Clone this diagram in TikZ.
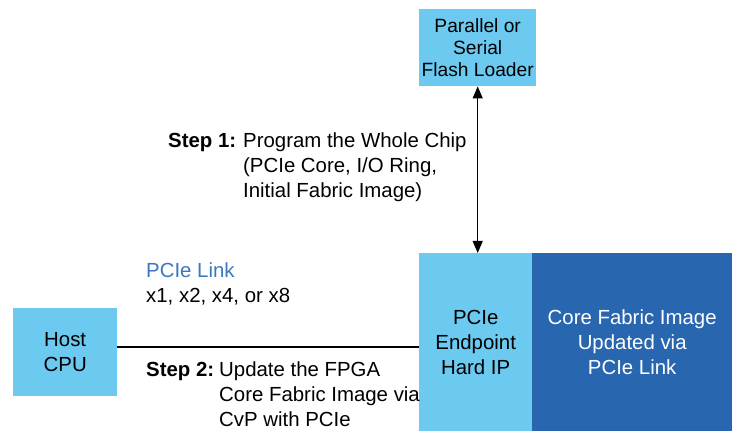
\documentclass[tikz,border=0pt]{standalone}
\usepackage{fontspec}
\setmainfont{Liberation Sans}
\usetikzlibrary{arrows.meta}
\definecolor{lightblk}{HTML}{6CC9F0}
\definecolor{darkblk}{HTML}{2966B0}
\definecolor{linkblue}{HTML}{3A78C0}
\tikzset{
  blk/.style={fill=lightblk, draw=none, inner sep=0pt, align=center,
    font=\fontsize{20.4}{25}\selectfont},
  lbl/.style={inner sep=0pt, align=left, anchor=base west,
    font=\fontsize{20.4}{25}\selectfont},
  link/.style={line width=1.3pt},
  dbl/.style={line width=1.1pt, {Triangle[length=12pt,width=10pt]}-{Triangle[length=12pt,width=10pt]}}
}
\begin{document}
\begin{tikzpicture}[x=1pt,y=-1pt]
  \useasboundingbox (0,0) rectangle (732,438);

  % blocks
  \node[blk, minimum width=117pt, minimum height=77pt, anchor=north west,
        font=\fontsize{19.2}{22}\selectfont] (flash) at (419,9)
        {Parallel or\\Serial\\Flash Loader};
  \node[blk, minimum width=113pt, minimum height=178pt, anchor=north west] (pcie) at (419,253)
        {PCIe\\Endpoint\\Hard IP};
  \node[blk, fill=darkblk, text=white, minimum width=200pt, minimum height=178pt,
        anchor=north west] (core) at (532,253)
        {Core Fabric Image\\Updated via\\PCIe Link};
  \node[blk, minimum width=104pt, minimum height=88pt, anchor=north west] (cpu) at (13,308)
        {Host\\CPU};

  % connectors
  \coordinate (pcietop) at (flash.south |- pcie.north);
  \draw[dbl] (flash.south) -- (pcietop);
  \coordinate (pcieleft) at (pcie.west |- 0,347);
  \draw[link] (cpu.east |- pcieleft) -- (pcieleft);

  % labels
  \node[lbl, font=\fontsize{20.4}{25}\bfseries] (s1) at (168,148) {Step 1:};
  \node[lbl] (s1t) at (243,198) {Program the Whole Chip\\(PCIe Core, I/O Ring,\\Initial Fabric Image)};
  \node[lbl, text=linkblue] (lk) at (146,278) {PCIe Link};
  \node[lbl] (lkw) at (146,303) {x1, x2, x4, or x8};
  \node[lbl, font=\fontsize{20.4}{25}\bfseries] (s2) at (146,377) {Step 2:};
  \node[lbl] (s2t) at (219,427) {Update the FPGA\\Core Fabric Image via\\CvP with PCIe};
\end{tikzpicture}
\end{document}
